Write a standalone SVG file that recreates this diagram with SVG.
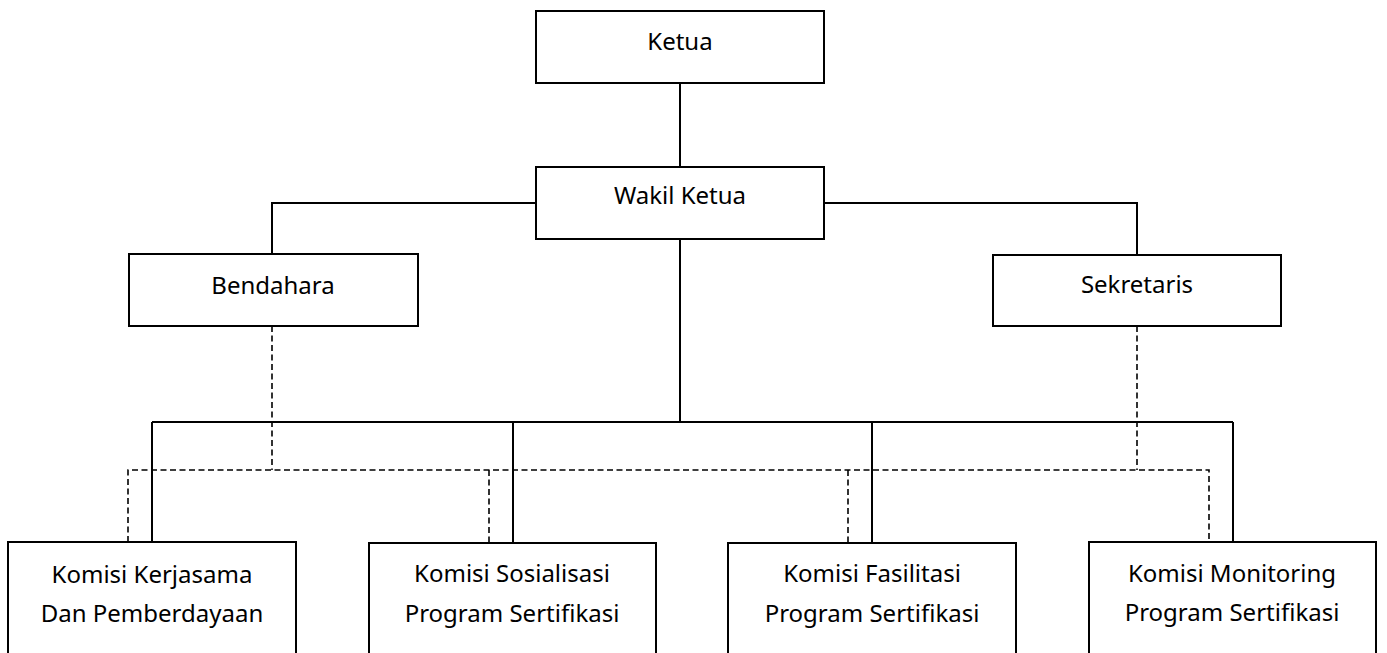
<svg xmlns="http://www.w3.org/2000/svg" width="1387" height="653" viewBox="0 0 1387 653">
<style>
.box{fill:#fff;stroke:#000;stroke-width:2}
.t{font-family:"Noto Sans",sans-serif;font-size:24px;fill:#000;text-anchor:middle}
.s{fill:none;stroke:#000;stroke-width:2}
.d{fill:none;stroke:#000;stroke-width:1.6;stroke-dasharray:6 3.5}
</style>
<rect width="1387" height="653" fill="#fff"/>
<g id="connectors">
<path class="s" d="M680 83V167M680 239V422M536 203H272V254M824 203H1137V255M152 422H1233M152 422V542M513 422V543M872 422V543M1233 422V542"/>
<path class="d" d="M272 326V470M1137 326V470M128 542V470H1209V542M489 470V543M848 470V543"/>
</g>
<g id="ketua"><rect class="box" x="536" y="11" width="288" height="72"/><text class="t" x="680" y="50">Ketua</text></g>
<g id="wakil"><rect class="box" x="536" y="167" width="288" height="72"/><text class="t" x="680" y="204">Wakil Ketua</text></g>
<g id="bendahara"><rect class="box" x="129" y="254" width="289" height="72"/><text class="t" x="273" y="294">Bendahara</text></g>
<g id="sekretaris"><rect class="box" x="993" y="255" width="288" height="71"/><text class="t" x="1137" y="293">Sekretaris</text></g>
<g id="k1"><rect class="box" x="8" y="542" width="288" height="130"/><text class="t" x="152" y="583">Komisi Kerjasama</text><text class="t" x="152" y="622">Dan Pemberdayaan</text></g>
<g id="k2"><rect class="box" x="369" y="543" width="287" height="130"/><text class="t" x="512" y="582">Komisi Sosialisasi</text><text class="t" x="512" y="622">Program Sertifikasi</text></g>
<g id="k3"><rect class="box" x="728" y="543" width="288" height="130"/><text class="t" x="872" y="582">Komisi Fasilitasi</text><text class="t" x="872" y="622">Program Sertifikasi</text></g>
<g id="k4"><rect class="box" x="1089" y="542" width="287" height="130"/><text class="t" x="1232" y="582">Komisi Monitoring</text><text class="t" x="1232" y="621">Program Sertifikasi</text></g>
</svg>
